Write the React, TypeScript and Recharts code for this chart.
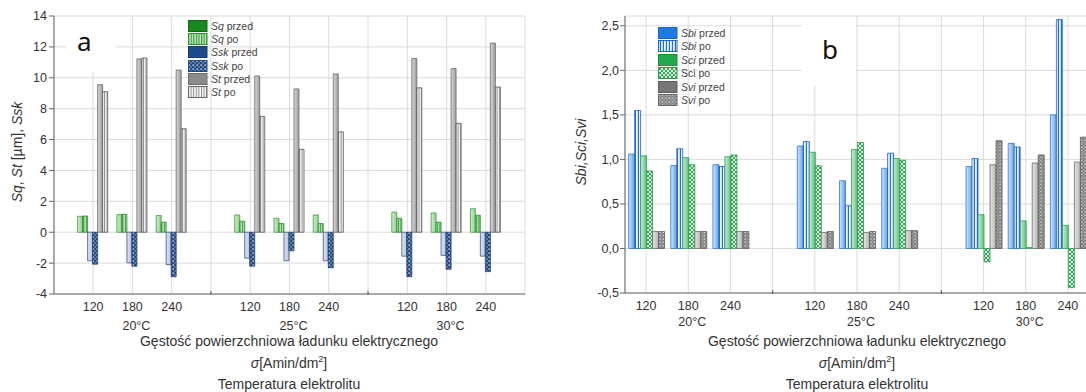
import React from "react";
import { BarChart, Bar, XAxis, YAxis, CartesianGrid, Legend } from "recharts";

const FONT = '"Liberation Sans", Arial, sans-serif';

const temperatures = ["20°C", "25°C", "30°C"];
const densities = ["120", "180", "240"];

// Chart a: Sq, Ssk, St before (przed) and after (po), temperature-major order
const sqPrzed = [1.03, 1.14, 1.08, 1.12, 0.9, 1.12, 1.3, 1.25, 1.52];
const sqPo = [1.05, 1.16, 0.65, 0.71, 0.56, 0.56, 0.9, 0.65, 1.1];
const sskPrzed = [-1.85, -1.98, -2.1, -1.68, -1.85, -1.85, -1.55, -1.5, -1.55];
const sskPo = [-2.07, -2.2, -2.88, -2.2, -1.2, -2.3, -2.88, -2.4, -2.55];
const stPrzed = [9.55, 11.22, 10.5, 10.12, 9.28, 10.25, 11.25, 10.6, 12.25];
const stPo = [9.1, 11.28, 6.7, 7.5, 5.37, 6.5, 9.35, 7.05, 9.4];

// Chart b: Sbi, Sci, Svi before and after
const sbiPrzed = [1.06, 0.93, 0.94, 1.15, 0.76, 0.9, 0.92, 1.18, 1.5];
const sbiPo = [1.55, 1.12, 0.92, 1.2, 0.48, 1.07, 1.01, 1.14, 2.57];
const sciPrzed = [1.04, 1.02, 1.03, 1.08, 1.11, 1.01, 0.38, 0.31, 0.26];
const sciPo = [0.87, 0.94, 1.05, 0.93, 1.19, 0.99, -0.15, 0.01, -0.44];
const sviPrzed = [0.19, 0.19, 0.19, 0.18, 0.18, 0.2, 0.94, 0.96, 0.97];
const sviPo = [0.19, 0.19, 0.19, 0.19, 0.19, 0.2, 1.21, 1.05, 1.25];

const ticksA = [-4, -2, 0, 2, 4, 6, 8, 10, 12, 14];
const ticksB = [-0.5, 0, 0.5, 1, 1.5, 2, 2.5];

type Row = { key: string; density?: string; temp?: string; [k: string]: number | string | undefined };

// one row per density, plus an empty spacer slot between temperature groups
function buildRows(series: Record<string, number[]>): Row[] {
  const rows: Row[] = [];
  temperatures.forEach((temp, t) => {
    densities.forEach((density, d) => {
      const i = t * densities.length + d;
      const row: Row = { key: `${temp}-${density}`, density, temp };
      Object.entries(series).forEach(([name, values]) => {
        row[name] = values[i];
      });
      rows.push(row);
    });
    if (t < temperatures.length - 1) rows.push({ key: `gap-${t}` });
  });
  return rows;
}

const rowsA = buildRows({ sqPrzed, sqPo, sskPrzed, sskPo, stPrzed, stPo });
const rowsB = buildRows({ sbiPrzed, sbiPo, sciPrzed, sciPo, sviPrzed, sviPo });

type LegendItem = { symbol: string; rest: string; italic: boolean; fill: string; stroke: string };

const legendA: LegendItem[] = [
  { symbol: "Sq", rest: " przed", italic: true, fill: "#17891f", stroke: "#0f6a16" },
  { symbol: "Sq", rest: " po", italic: true, fill: "url(#pSqPo)", stroke: "#2f8f35" },
  { symbol: "Ssk", rest: " przed", italic: true, fill: "#1d4a8a", stroke: "#153a6e" },
  { symbol: "Ssk", rest: " po", italic: true, fill: "url(#pSskPo)", stroke: "#1d4a8a" },
  { symbol: "St", rest: " przed", italic: true, fill: "#8b8b8b", stroke: "#6c6c6c" },
  { symbol: "St", rest: " po", italic: true, fill: "url(#pStPo)", stroke: "#666" },
];

const legendB: LegendItem[] = [
  { symbol: "Sbi", rest: " przed", italic: true, fill: "#1f78e6", stroke: "#1862c4" },
  { symbol: "Sbi", rest: " po", italic: true, fill: "url(#pSbiPo)", stroke: "#1b66cc" },
  { symbol: "Sci", rest: " przed", italic: true, fill: "#1faa4d", stroke: "#17903f" },
  { symbol: "Sci", rest: " po", italic: false, fill: "url(#pSciPo)", stroke: "#2a9a4a" },
  { symbol: "Svi", rest: " przed", italic: true, fill: "#777", stroke: "#5c5c5c" },
  { symbol: "Svi", rest: " po", italic: true, fill: "url(#pSviPo)", stroke: "#666" },
];

const LegendBlock = ({ items, rowH }: { items: LegendItem[]; rowH: number }) => (
  <div style={{ fontFamily: FONT, fontSize: 10.5, color: "#444" }}>
    {items.map((it, i) => (
      <div key={i} style={{ display: "flex", alignItems: "center", height: rowH }}>
        <svg width={20} height={12} style={{ marginRight: 3, display: "block" }}>
          <rect x={0.5} y={0.5} width={18.5} height={11} fill={it.fill} stroke={it.stroke} />
        </svg>
        <span style={{ whiteSpace: "nowrap" }}>
          {it.italic ? <i>{it.symbol}</i> : it.symbol}
          {it.rest}
        </span>
      </div>
    ))}
  </div>
);

const makeTick = (rows: Row[], tempDy: number) => (props: any) => {
  const { x, y, payload } = props;
  const row = rows.find((r) => r.key === payload.value);
  if (!row || !row.density) {
    return <line x1={x} x2={x} y1={y - 3} y2={y + 1} stroke="#555" />;
  }
  return (
    <g fontFamily={FONT} fontSize={12.5} fill="#333">
      <text x={x} y={y + 17} textAnchor="middle">
        {row.density}
      </text>
      {row.density === densities[1] && (
        <text x={x + 4} y={y + tempDy} textAnchor="middle">
          {row.temp}
        </text>
      )}
    </g>
  );
};

const Patterns = () => (
  <defs>
    <linearGradient id="gSqPrzed" x1="0" y1="0" x2="1" y2="0">
      <stop offset="0" stopColor="#d3eecf" />
      <stop offset="1" stopColor="#8dcf87" />
    </linearGradient>
    <pattern id="pSqPo" width="2.6" height="4" patternUnits="userSpaceOnUse">
      <rect width="2.6" height="4" fill="#cbecc6" />
      <rect width="1.2" height="4" fill="#2f9a35" />
    </pattern>
    <linearGradient id="gSskPrzed" x1="0" y1="0" x2="1" y2="0">
      <stop offset="0" stopColor="#dfe7f3" />
      <stop offset="1" stopColor="#b2c3de" />
    </linearGradient>
    <pattern id="pSskPo" width="4" height="4" patternUnits="userSpaceOnUse">
      <rect width="4" height="4" fill="#23497f" />
      <rect x="0.4" y="0.5" width="1.7" height="1.2" fill="#e6eef8" />
      <rect x="2.4" y="2.5" width="1.3" height="1" fill="#c9d8ee" />
    </pattern>
    <linearGradient id="gStPrzed" x1="0" y1="0" x2="1" y2="0">
      <stop offset="0" stopColor="#dadada" />
      <stop offset="1" stopColor="#9a9a9a" />
    </linearGradient>
    <pattern id="pStPo" width="2.6" height="4" patternUnits="userSpaceOnUse">
      <rect width="2.6" height="4" fill="#fafafa" />
      <rect width="1" height="4" fill="#8a8a8a" />
    </pattern>
    <linearGradient id="gSbiPrzed" x1="0" y1="0" x2="1" y2="0">
      <stop offset="0" stopColor="#d6e8fb" />
      <stop offset="1" stopColor="#5a9fea" />
    </linearGradient>
    <pattern id="pSbiPo" width="3" height="4" patternUnits="userSpaceOnUse">
      <rect width="3" height="4" fill="#f3f8ff" />
      <rect x="1.8" width="1.2" height="4" fill="#1d6fd8" />
    </pattern>
    <linearGradient id="gSciPrzed" x1="0" y1="0" x2="1" y2="0">
      <stop offset="0" stopColor="#cdeed6" />
      <stop offset="1" stopColor="#5cbf7c" />
    </linearGradient>
    <pattern id="pSciPo" width="4" height="4" patternUnits="userSpaceOnUse">
      <rect width="4" height="4" fill="#d6f1dd" />
      <path d="M0,0 L2,2 L4,0 M0,4 L2,2 L4,4" stroke="#2a9a4a" strokeWidth="0.9" fill="none" />
    </pattern>
    <linearGradient id="gSviPrzed" x1="0" y1="0" x2="1" y2="0">
      <stop offset="0" stopColor="#e4e4e4" />
      <stop offset="1" stopColor="#b6b6b6" />
    </linearGradient>
    <pattern id="pSviPo" width="3.4" height="3.4" patternUnits="userSpaceOnUse">
      <rect width="3.4" height="3.4" fill="#7d7d7d" />
      <rect x="0.4" y="0.4" width="1.3" height="1.3" fill="#eeeeee" />
      <rect x="2.1" y="2.1" width="1" height="1" fill="#d8d8d8" />
    </pattern>
  </defs>
);

const titleStyle: React.CSSProperties = {
  position: "absolute",
  width: 500,
  textAlign: "center",
  fontFamily: FONT,
  fontSize: 14,
  lineHeight: "16px",
  color: "#333",
};

const AxisTitles = ({ cx }: { cx: number }) => (
  <>
    <div style={{ ...titleStyle, left: cx - 250, top: 333 }}>Gęstość powierzchniowa ładunku elektrycznego</div>
    <div style={{ ...titleStyle, left: cx - 250, top: 355 }}>
      <i>σ</i>[Amin/dm<sup style={{ fontSize: 9, lineHeight: 0 }}>2</sup>]
    </div>
    <div style={{ ...titleStyle, left: cx - 250, top: 376 }}>Temperatura elektrolitu</div>
  </>
);

const VerticalTitle = ({ cx, cy, children }: { cx: number; cy: number; children: React.ReactNode }) => (
  <div
    style={{
      position: "absolute",
      left: cx - 100,
      top: cy - 8,
      width: 200,
      height: 16,
      lineHeight: "16px",
      textAlign: "center",
      fontFamily: FONT,
      fontSize: 14,
      color: "#333",
      transform: "rotate(-90deg)",
    }}
  >
    {children}
  </div>
);

const PanelLetter = ({ box, text, tx, ty }: { box: [number, number, number, number]; text: string; tx: number; ty: number }) => (
  <>
    <div style={{ position: "absolute", left: box[0], top: box[1], width: box[2], height: box[3], background: "#fff" }} />
    <div style={{ position: "absolute", left: tx, top: ty, fontFamily: '"Noto Sans", sans-serif', fontSize: 26, lineHeight: "30px", color: "#111" }}>
      {text}
    </div>
  </>
);

const commaFmt = (v: number) => v.toFixed(1).replace(".", ",");

export default function App() {
  const gridStroke = "#dcdcdc";
  const axisStroke = "#666";
  const tickStyle = { fontSize: 12.5, fill: "#333", fontFamily: FONT };

  return (
    <div style={{ position: "absolute", left: 0, top: 0, width: 1086, height: 392, overflow: "hidden", background: "#fff" }}>
      {/* chart a */}
      <div style={{ position: "absolute", left: 0, top: 0 }}>
        <BarChart width={540} height={392} data={rowsA} margin={{ top: 16, right: 15, bottom: 58, left: 0 }} barGap={0} barCategoryGap="10.5%">
          <Patterns />
          <CartesianGrid stroke={gridStroke} />
          <XAxis dataKey="key" interval={0} height={40} padding={{ left: 19.5, right: 19.5 }} tickLine={false} tickSize={0} tickMargin={0} stroke={axisStroke} tick={makeTick(rowsA, 35.5)} />
          <XAxis xAxisId="top" dataKey="key" orientation="top" height={0} tick={false} tickLine={false} padding={{ left: 19.5, right: 19.5 }} stroke={axisStroke} />
          <YAxis domain={[-4, 14]} ticks={ticksA} width={54} tickSize={5} tickMargin={2} stroke={axisStroke} tick={tickStyle} interval={0} />
          <YAxis yAxisId="right" orientation="right" domain={[-4, 14]} width={0} tick={false} tickLine={false} stroke={axisStroke} />
          <Bar dataKey="sqPrzed" fill="url(#gSqPrzed)" stroke="#3c9c3c" strokeWidth={0.8} isAnimationActive={false} />
          <Bar dataKey="sqPo" fill="url(#pSqPo)" stroke="#2a8a30" strokeWidth={0.8} isAnimationActive={false} />
          <Bar dataKey="sskPrzed" fill="url(#gSskPrzed)" stroke="#3c507c" strokeWidth={0.8} isAnimationActive={false} />
          <Bar dataKey="sskPo" fill="url(#pSskPo)" stroke="#1d3f74" strokeWidth={0.8} isAnimationActive={false} />
          <Bar dataKey="stPrzed" fill="url(#gStPrzed)" stroke="#6a6a6a" strokeWidth={0.8} isAnimationActive={false} />
          <Bar dataKey="stPo" fill="url(#pStPo)" stroke="#555" strokeWidth={0.8} isAnimationActive={false} />
          <Legend layout="vertical" align="center" verticalAlign="middle" wrapperStyle={{ left: 188, top: 19.5, width: "auto" }} content={() => <LegendBlock items={legendA} rowH={13.2} />} />
        </BarChart>
      </div>
      <VerticalTitle cx={17} cy={152}>
        <i>Sq</i>, <i>St</i> [µm], <i>Ssk</i>
      </VerticalTitle>
      <AxisTitles cx={289} />
      <PanelLetter box={[66, 17, 50, 55]} text="a" tx={77} ty={26} />

      {/* chart b */}
      <div style={{ position: "absolute", left: 540, top: 0 }}>
        <BarChart width={560} height={392} data={rowsB} margin={{ top: 16, right: 11, bottom: 59, left: 0 }} barGap={0} barCategoryGap="8.5%">
          <Patterns />
          <CartesianGrid stroke={gridStroke} />
          <XAxis dataKey="key" interval={0} height={40} tickLine={false} tickSize={0} tickMargin={0} stroke={axisStroke} tick={makeTick(rowsB, 33)} />
          <XAxis xAxisId="top" dataKey="key" orientation="top" height={0} tick={false} tickLine={false} stroke={axisStroke} />
          <YAxis domain={[-0.5, 2.61]} ticks={ticksB} width={85} tickSize={5} tickMargin={1} stroke={axisStroke} tick={tickStyle} tickFormatter={commaFmt} interval={0} />
          <YAxis yAxisId="right" orientation="right" domain={[-0.5, 2.61]} width={0} tick={false} tickLine={false} stroke={axisStroke} />
          <Bar dataKey="sbiPrzed" fill="url(#gSbiPrzed)" stroke="#2b74d4" strokeWidth={0.8} isAnimationActive={false} />
          <Bar dataKey="sbiPo" fill="url(#pSbiPo)" stroke="#1b66cc" strokeWidth={0.8} isAnimationActive={false} />
          <Bar dataKey="sciPrzed" fill="url(#gSciPrzed)" stroke="#2f9d55" strokeWidth={0.8} isAnimationActive={false} />
          <Bar dataKey="sciPo" fill="url(#pSciPo)" stroke="#2a9a4a" strokeWidth={0.8} isAnimationActive={false} />
          <Bar dataKey="sviPrzed" fill="url(#gSviPrzed)" stroke="#6a6a6a" strokeWidth={0.8} isAnimationActive={false} />
          <Bar dataKey="sviPo" fill="url(#pSviPo)" stroke="#5a5a5a" strokeWidth={0.8} isAnimationActive={false} />
          <Legend layout="vertical" align="center" verticalAlign="middle" wrapperStyle={{ left: 118, top: 26.3, width: "auto" }} content={() => <LegendBlock items={legendB} rowH={13.4} />} />
        </BarChart>
      </div>
      <VerticalTitle cx={581} cy={152}>
        <i>Sbi,Sci,Svi</i>
      </VerticalTitle>
      <AxisTitles cx={857} />
      <PanelLetter box={[802, 17, 54, 69]} text="b" tx={822} ty={34} />
    </div>
  );
}
